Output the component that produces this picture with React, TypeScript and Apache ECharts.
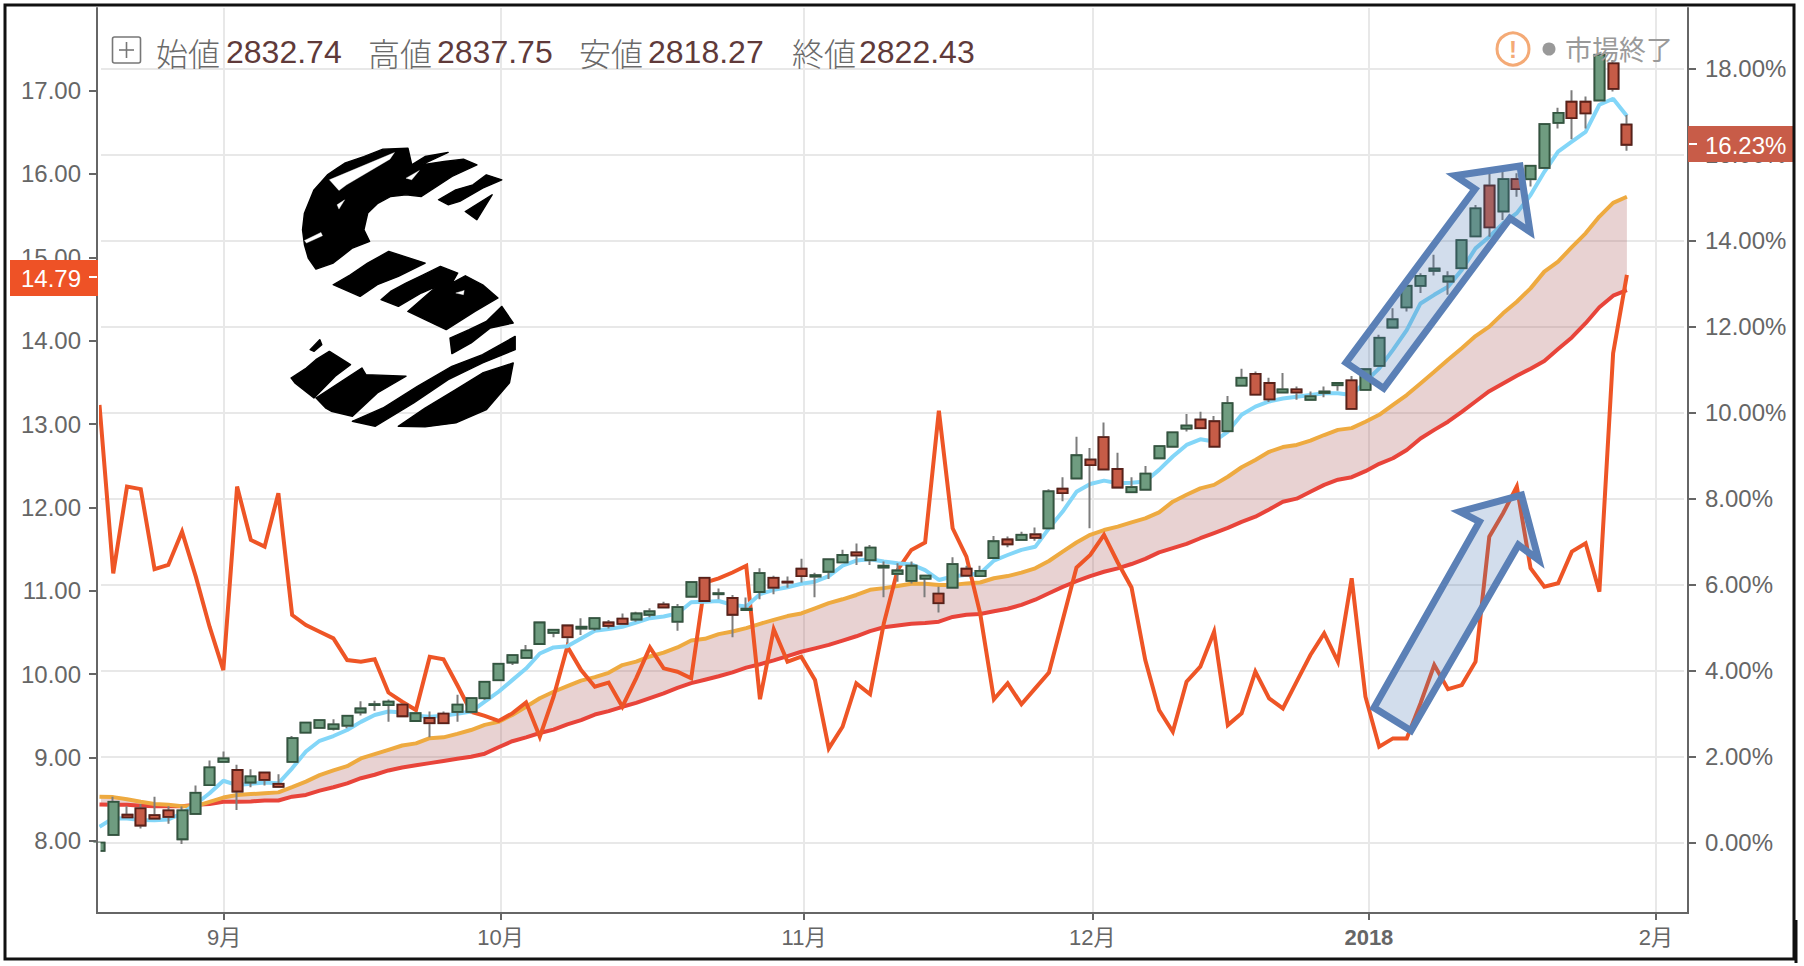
import React, { useEffect, useRef } from "react";
import * as echarts from "echarts";

// Month ticks sit between trading days, expressed in candle-index units.
const monthTickPositions = [9.05, 29.15, 51.2, 72.15, 92.25, 113.1];
const monthTickLabels = ["9月", "10月", "11月", "12月", "2018", "2月"];
const leftTicks = [8, 9, 10, 11, 12, 13, 14, 15, 16, 17];
const rightTicks = [0, 2, 4, 6, 8, 10, 12, 14, 16, 18];

// [open, close, low, high], in percent on the right axis
const candles = [
  [-0.19,0,-0.19,0],[0.18,0.95,0.18,1.07],[0.65,0.59,0.57,0.85],[0.8,0.4,0.33,0.9],[0.64,0.56,0.56,1.07],
  [0.75,0.6,0.44,0.85],[0.08,0.75,-0.03,0.84],[0.67,1.16,0.67,1.33],[1.34,1.75,1.34,1.91],[1.88,1.96,1.88,2.12],
  [1.69,1.19,0.76,1.81],[1.4,1.54,1.29,1.71],[1.63,1.46,1.33,1.65],[1.37,1.3,1.3,1.59],[1.88,2.43,1.88,2.48],
  [2.56,2.79,2.56,2.79],[2.67,2.85,2.67,2.85],[2.65,2.75,2.61,2.87],[2.72,2.95,2.66,2.95],[3.03,3.12,2.96,3.29],
  [3.2,3.22,3.07,3.3],[3.2,3.28,2.81,3.33],[3.21,2.94,2.93,3.24],[2.83,3.01,2.83,3.01],[2.9,2.78,2.45,3.05],
  [3.0,2.78,2.78,3.05],[3.04,3.21,2.81,3.44],[3.04,3.36,3.04,3.36],[3.36,3.74,3.32,3.74],[3.78,4.16,3.78,4.16],
  [4.19,4.36,4.13,4.36],[4.3,4.47,4.3,4.6],[4.62,5.12,4.62,5.12],[4.88,4.95,4.78,4.95],[5.05,4.78,4.64,5.05],
  [4.98,5.02,4.83,5.22],[4.98,5.22,4.93,5.22],[5.12,5.04,4.98,5.18],[5.21,5.09,5.09,5.33],[5.19,5.33,5.14,5.37],
  [5.3,5.38,5.24,5.45],[5.54,5.47,5.47,5.6],[5.14,5.48,4.93,5.55],[5.72,6.06,5.72,6.06],[6.16,5.62,5.62,6.16],
  [5.78,5.8,5.66,5.91],[5.69,5.3,4.78,5.76],[5.41,5.44,5.41,5.7],[5.83,6.27,5.66,6.38],[6.16,5.93,5.78,6.21],
  [6.07,6.05,5.93,6.19],[6.37,6.2,6.05,6.6],[6.19,6.22,5.71,6.28],[6.3,6.59,6.13,6.59],[6.52,6.69,6.5,6.81],
  [6.75,6.68,6.46,6.96],[6.57,6.86,6.46,6.92],[6.4,6.44,5.71,6.54],[6.25,6.33,6.07,6.5],[6.09,6.44,6.03,6.54],
  [6.14,6.21,5.71,6.22],[5.79,5.57,5.35,5.95],[5.93,6.48,5.93,6.64],[6.37,6.21,6.21,6.44],[6.2,6.32,6.2,6.44],
  [6.62,7.01,6.62,7.13],[7.05,6.94,6.87,7.12],[7.04,7.16,7.04,7.23],[7.17,7.09,7.02,7.33],[7.31,8.17,7.31,8.22],
  [8.23,8.13,7.94,8.5],[8.47,9.01,8.47,9.44],[8.91,8.78,7.31,9.18],[9.43,8.68,8.68,9.77],[8.69,8.26,8.26,9.07],
  [8.15,8.27,8.15,8.5],[8.21,8.58,8.21,8.76],[8.94,9.22,8.94,9.22],[9.21,9.54,9.21,9.54],[9.63,9.7,9.56,9.97],
  [9.84,9.64,9.64,10.02],[9.8,9.21,9.21,9.92],[9.57,10.22,9.57,10.39],[10.63,10.81,10.63,11.02],[10.9,10.42,10.42,10.96],
  [10.69,10.31,10.25,10.81],[10.47,10.54,10.47,10.92],[10.54,10.47,10.3,10.61],[10.3,10.38,10.3,10.49],[10.46,10.49,10.36,10.61],
  [10.64,10.69,10.51,10.69],[10.75,10.09,10.09,10.85],[10.53,11.01,10.53,11.01],[11.09,11.74,11.09,11.81],[11.98,12.17,11.98,12.43],
  [12.45,12.95,12.35,12.95],[12.95,13.18,12.78,13.24],[13.3,13.35,13.19,13.67],[13.05,13.17,12.74,13.29],[13.36,14.01,13.36,14.01],
  [14.1,14.75,14.1,14.83],[15.28,14.31,14.09,15.57],[14.68,15.43,14.48,15.6],[15.43,15.2,15.02,15.57],[15.43,15.74,15.26,15.74],
  [15.69,16.71,15.69,16.71],[16.74,16.97,16.61,17.09],[17.23,16.85,16.36,17.5],[17.23,16.96,16.61,17.35],[17.26,18.32,17.26,18.32],
  [18.12,17.53,17.47,18.2],[16.7,16.23,16.09,16.92],
];

const fastAverage = [
  0.37,0.57,0.56,0.53,0.52,0.54,0.68,0.9,1.15,1.44,1.34,1.37,1.4,1.38,1.73,2.12,2.37,2.48,2.62,2.81,
  2.97,3.05,3.03,2.95,2.93,2.95,3.0,3.05,3.28,3.51,3.78,4.05,4.4,4.54,4.57,4.75,4.93,4.97,5.02,5.12,
  5.22,5.26,5.33,5.59,5.6,5.62,5.53,5.49,5.78,5.88,5.94,6.02,6.07,6.2,6.44,6.56,6.59,6.54,6.5,6.47,
  6.34,6.11,6.19,6.23,6.26,6.56,6.69,6.81,6.88,7.31,7.7,8.16,8.34,8.42,8.36,8.37,8.4,8.67,8.98,9.25,
  9.38,9.33,9.56,9.95,10.14,10.26,10.33,10.37,10.41,10.45,10.45,10.41,10.72,11.03,11.46,11.92,12.54,12.74,12.93,13.32,
  13.82,14.09,14.4,14.64,15.06,15.6,16.07,16.3,16.53,17.16,17.3,16.9,
];

const midAverage = [
  1.07,1.06,1.01,0.95,0.9,0.88,0.85,0.85,0.95,1.05,1.11,1.13,1.15,1.17,1.29,1.42,1.57,1.68,1.78,1.96,
  2.06,2.16,2.26,2.31,2.43,2.45,2.53,2.62,2.74,2.81,2.97,3.16,3.36,3.51,3.64,3.77,3.85,3.95,4.13,4.21,
  4.33,4.42,4.54,4.7,4.74,4.85,4.91,4.99,5.09,5.18,5.27,5.33,5.45,5.57,5.66,5.76,5.88,5.92,5.97,6.02,
  6.02,5.99,5.99,6.03,6.05,6.15,6.2,6.28,6.38,6.55,6.77,6.98,7.16,7.27,7.35,7.45,7.54,7.68,7.93,8.09,
  8.24,8.32,8.51,8.73,8.9,9.09,9.2,9.25,9.35,9.48,9.6,9.64,9.79,9.95,10.18,10.41,10.68,10.95,11.23,11.5,
  11.78,12.0,12.31,12.58,12.89,13.28,13.51,13.85,14.17,14.56,14.88,15.02,
];

const slowAverage = [
  0.89,0.88,0.88,0.86,0.85,0.85,0.85,0.88,0.9,0.95,0.95,0.96,0.98,0.98,1.07,1.11,1.21,1.29,1.38,1.5,
  1.58,1.68,1.75,1.8,1.85,1.9,1.95,2.0,2.07,2.22,2.36,2.45,2.55,2.63,2.75,2.85,2.98,3.06,3.16,3.25,
  3.36,3.47,3.6,3.71,3.79,3.87,3.96,4.07,4.15,4.24,4.34,4.44,4.52,4.6,4.7,4.8,4.92,5.01,5.05,5.09,
  5.11,5.14,5.25,5.3,5.32,5.38,5.44,5.53,5.65,5.8,5.95,6.08,6.2,6.3,6.38,6.48,6.6,6.75,6.85,6.95,
  7.08,7.2,7.32,7.46,7.58,7.75,7.93,8.0,8.16,8.32,8.44,8.5,8.64,8.81,8.94,9.13,9.4,9.6,9.79,10.02,
  10.26,10.5,10.68,10.86,11.02,11.2,11.48,11.75,12.08,12.45,12.72,12.85,
];

// Left axis
const volatility = [
  13.23,11.21,12.25,12.22,11.26,11.31,11.71,11.17,10.57,10.05,12.25,11.61,11.53,12.17,10.71,10.59,10.51,10.43,10.17,10.15,
  10.18,9.78,9.67,9.57,10.21,10.18,9.87,9.55,9.5,9.44,9.53,9.66,9.25,9.73,10.33,10.05,9.85,9.9,9.61,9.95,
  10.32,10.07,10.03,9.95,11.1,11.15,11.22,11.3,9.7,10.54,10.15,10.21,9.93,9.11,9.37,9.89,9.76,10.61,11.25,11.49,
  11.58,13.16,11.75,11.41,10.73,9.7,9.89,9.64,9.83,10.02,10.65,11.28,11.43,11.67,11.34,11.04,10.17,9.57,9.31,9.91,
  10.09,10.51,9.39,9.53,10.03,9.71,9.59,9.91,10.23,10.49,10.15,11.15,9.73,9.13,9.23,9.23,9.65,10.11,9.82,9.87,
  10.15,11.65,11.93,12.25,11.27,11.05,11.09,11.47,11.57,10.99,13.85,14.79,
];

const headerLabels = ["始値", "高値", "安値", "終値"];
const headerValues = ["2832.74", "2837.75", "2818.27", "2822.43"];
const lastVolatilityTag = "14.79";
const lastPercentTag = "16.23%";
const statusText = "市場終了";

const logoShapes = [
  "M855 525L880 505L900 490L950 470L1000 448L1065 445L1075 495L1110 470L1170 458L1100 495L1160 485L1210 478L1245 495L1180 530L1140 560L1100 590L1060 585L1020 590L985 612L960 640L950 690L965 725L920 745L870 790L825 808L805 775L795 735L790 690L795 640L820 570Z",
  "M1145 600L1190 570L1235 555L1270 525L1310 540L1260 565L1200 605L1170 615Z",
  "M1215 635L1285 585L1245 660Z",
  "M870 855L915 825L960 790L1015 755L1110 790L1040 830L985 855L940 890Z",
  "M995 900L1020 875L1060 850L1105 825L1150 800L1195 820L1180 850L1215 828L1260 855L1300 895L1240 935L1165 990L1065 935L1140 860L1100 880L1040 920Z",
  "M1175 1015L1225 990L1270 965L1310 920L1340 970L1280 985L1230 1030L1180 1062Z",
  "M810 1050L835 1020L840 1035L820 1055Z",
  "M760 1135L800 1105L825 1080L860 1055L915 1095L875 1130L820 1195L770 1150Z",
  "M825 1195L885 1150L945 1105L955 1125L1060 1130L985 1180L920 1250L865 1235L850 1225Z",
  "M920 1265L1000 1225L1090 1160L1180 1100L1260 1065L1345 1010L1345 1050L1260 1090L1170 1140L1080 1210L980 1280Z",
  "M1040 1280L1110 1225L1190 1170L1260 1120L1340 1090L1330 1150L1270 1230L1190 1270L1110 1282Z",
];
// White scratches across the black strokes of the logo
const logoCuts = [
  "M860 540L1030 458L1018 478L905 555L885 572Z",
  "M795 722L838 698L842 708L800 730Z",
  "M880 615L900 600L885 628Z",
  "M1060 535L1095 512L1075 540Z",
  "M1190 880L1212 872L1210 885Z",
];

echarts.graphic.registerShape("sLogo", echarts.graphic.extendPath(logoShapes.join(""), {}));
echarts.graphic.registerShape("sLogoCuts", echarts.graphic.extendPath(logoCuts.join(""), {}));

const uiFont = '"Liberation Sans","Noto Sans CJK JP",sans-serif';
const gridLine = { show: true, lineStyle: { color: "#e8e8e8", width: 2 } };
const axisColor = "#666666";

function buildHeader() {
  const labelX = [156, 368, 579, 792];
  const valueX = [226, 437, 648, 859];
  const items: any[] = [];
  headerLabels.forEach((t, i) => {
    items.push({
      type: "text", z: 60,
      style: { text: t, x: labelX[i], y: 52, fill: "#6a6a6a", textVerticalAlign: "middle", font: '300 32px "Noto Sans CJK JP"' },
    });
    items.push({
      type: "text", z: 60,
      style: { text: headerValues[i], x: valueX[i], y: 52, fill: "#5f3a3a", textVerticalAlign: "middle", font: "32px " + uiFont },
    });
  });
  return items;
}

function renderBand(params: any, api: any) {
  if (params.dataIndex !== 0) return null;
  const upper = midAverage.map((v, i) => api.coord([i, v]));
  const lower = slowAverage.map((v, i) => api.coord([i, v])).reverse();
  return {
    type: "polygon",
    shape: { points: upper.concat(lower) },
    style: { fill: "rgba(170,90,90,0.27)", stroke: "none" },
  };
}

function buildOption() {
  const idx = (arr: number[]) => arr.map((v, i) => [i, v]);
  const tagText = (text: string, x: number, y: number, align: string) => ({
    type: "text", z: 71,
    style: { text, x, y, fill: "#ffffff", textAlign: align, textVerticalAlign: "middle", font: "24px " + uiFont },
  });
  const arrowStyle = { fill: "rgba(68,114,176,0.24)", stroke: "#5b80b6", lineWidth: 7, lineJoin: "miter" };
  return {
    animation: false,
    backgroundColor: "#ffffff",
    grid: { left: 101, right: 120, top: 8, bottom: 53, containLabel: false },
    xAxis: {
      type: "value", min: 0.11, max: 115.15, scale: true,
      axisLine: { show: true, onZero: false, lineStyle: { color: axisColor, width: 2 } },
      axisTick: { show: true, length: 7, customValues: monthTickPositions, lineStyle: { color: axisColor, width: 2 } },
      axisLabel: {
        customValues: monthTickPositions, margin: 13, color: axisColor, fontFamily: uiFont, fontSize: 22,
        formatter: (v: number) => {
          const s = monthTickLabels[monthTickPositions.indexOf(v)] ?? "";
          return s === "2018" ? "{b|2018}" : s;
        },
        rich: { b: { fontWeight: "bold", fontSize: 22, color: axisColor, fontFamily: uiFont } },
      },
      splitLine: gridLine,
    },
    yAxis: [
      {
        type: "value", position: "left", offset: 4, min: 7.136, max: 17.99, scale: true,
        axisLine: { show: true, lineStyle: { color: axisColor, width: 2 } },
        axisTick: { show: true, length: 8, customValues: leftTicks, lineStyle: { color: axisColor, width: 2 } },
        axisLabel: { customValues: leftTicks, margin: 16, color: axisColor, fontFamily: uiFont, fontSize: 24, formatter: (v: number) => v.toFixed(2) },
        splitLine: { show: false },
      },
      {
        type: "value", position: "right", offset: 4, min: -1.635, max: 19.41, scale: true,
        axisLine: { show: true, lineStyle: { color: axisColor, width: 2 } },
        axisTick: { show: true, length: 8, customValues: rightTicks, lineStyle: { color: axisColor, width: 2 } },
        axisLabel: { customValues: rightTicks, margin: 17, color: axisColor, fontFamily: uiFont, fontSize: 24, formatter: (v: number) => v.toFixed(2) + "%" },
        splitLine: gridLine,
      },
    ],
    series: [
      {
        type: "custom", name: "band", yAxisIndex: 1, z: 2, clip: true, data: [[0, 0]], renderItem: renderBand, silent: true,
      },
      {
        type: "line", name: "slow", yAxisIndex: 1, data: idx(slowAverage), showSymbol: false, z: 3,
        lineStyle: { color: "#e8443a", width: 4 },
      },
      {
        type: "line", name: "mid", yAxisIndex: 1, data: idx(midAverage), showSymbol: false, z: 3,
        lineStyle: { color: "#eeaa40", width: 4 },
      },
      {
        type: "line", name: "volatility", yAxisIndex: 0, data: idx(volatility), showSymbol: false, z: 4,
        lineStyle: { color: "#ee5526", width: 4, join: "miter" },
      },
      {
        type: "line", name: "fast", yAxisIndex: 1, data: idx(fastAverage), showSymbol: false, z: 4,
        lineStyle: { color: "#83d6f8", width: 4 },
      },
      {
        // Grey wicks: the full high-low range
        type: "candlestick", name: "wicks", yAxisIndex: 1, z: 5, barWidth: 10.5,
        data: candles.map((c, i) => [i, c[0], c[1], c[2], c[3]]),
        itemStyle: { color: "#7d7d7d", color0: "#7d7d7d", borderColor: "#7d7d7d", borderColor0: "#7d7d7d", borderWidth: 2 },
      },
      {
        // Bodies only, drawn over the wicks with their dark outlines
        type: "candlestick", name: "price", yAxisIndex: 1, z: 6, barWidth: 10.5,
        data: candles.map((c, i) => [i, c[0], c[1], Math.min(c[0], c[1]), Math.max(c[0], c[1])]),
        itemStyle: { color: "#6f9c80", color0: "#c65c47", borderColor: "#32553f", borderColor0: "#5a2018", borderWidth: 1.8 },
      },
    ],
    graphic: {
      elements: [
        { type: "rect", z: 80, shape: { x: 5, y: 5, width: 1789, height: 954 }, style: { fill: "none", stroke: "#111111", lineWidth: 3 } },
        { type: "line", z: 80, shape: { x1: 1796, y1: 920, x2: 1796, y2: 963 }, style: { stroke: "#111111", lineWidth: 3 } },
        { type: "line", z: 20, shape: { x1: 96, y1: 913, x2: 102, y2: 913 }, style: { stroke: axisColor, lineWidth: 2 } },
        { type: "line", z: 20, shape: { x1: 1683, y1: 913, x2: 1689, y2: 913 }, style: { stroke: axisColor, lineWidth: 2 } },

        // The first candle starts just outside the plot: mask what lies left of the plot edge
        { type: "rect", z: 21, shape: { x: 91, y: 842.5, width: 9.5, height: 13 }, style: { fill: "#ffffff" } },
        { type: "line", z: 22, shape: { x1: 97, y1: 838, x2: 97, y2: 858 }, style: { stroke: axisColor, lineWidth: 2 } },

        { type: "sLogo", z: 40, x: 0, y: 0, scaleX: 1 / 2.613, scaleY: 1 / 3, style: { fill: "#000000", stroke: "#000000", lineWidth: 4, lineJoin: "round" } },
        { type: "sLogoCuts", z: 41, x: 0, y: 0, scaleX: 1 / 2.613, scaleY: 1 / 3, style: { fill: "#ffffff", stroke: "#ffffff", lineWidth: 1, lineJoin: "round" } },

        { type: "rect", z: 60, shape: { x: 112.5, y: 37, width: 28, height: 26, r: 2 }, style: { fill: "#ffffff", stroke: "#777777", lineWidth: 1.6 } },
        { type: "line", z: 61, shape: { x1: 119, y1: 50, x2: 134, y2: 50 }, style: { stroke: "#777777", lineWidth: 1.6 } },
        { type: "line", z: 61, shape: { x1: 126.5, y1: 42, x2: 126.5, y2: 58 }, style: { stroke: "#777777", lineWidth: 1.6 } },
        ...buildHeader(),

        { type: "circle", z: 60, shape: { cx: 1513, cy: 49, r: 16 }, style: { fill: "#ffffff", stroke: "#f4aa76", lineWidth: 3 } },
        { type: "text", z: 61, style: { text: "!", x: 1513, y: 49, fill: "#f4aa76", textAlign: "center", textVerticalAlign: "middle", font: "bold 24px " + uiFont } },
        { type: "circle", z: 60, shape: { cx: 1549, cy: 49, r: 6.5 }, style: { fill: "#999999" } },
        { type: "text", z: 60, style: { text: statusText, x: 1565, y: 48, fill: "#9a9a9a", textVerticalAlign: "middle", font: '27px "Noto Sans CJK JP"' } },

        { type: "polygon", z: 50, shape: { points: [[1346, 362.7], [1383.7, 388.3], [1510, 218.3], [1530, 231.7], [1520, 166], [1455, 175.7], [1475, 189]] }, style: arrowStyle },
        { type: "polygon", z: 50, shape: { points: [[1374, 707.7], [1411, 730.7], [1518.4, 545], [1538.7, 560], [1521.5, 495], [1460, 511.7], [1479.4, 521.7]] }, style: arrowStyle },

        { type: "rect", z: 70, shape: { x: 10, y: 260, width: 88, height: 36 }, style: { fill: "#ee5226" } },
        tagText(lastVolatilityTag, 81, 278, "right"),
        { type: "line", z: 71, shape: { x1: 89, y1: 277, x2: 97, y2: 277 }, style: { stroke: "#ffffff", lineWidth: 2 } },
        { type: "rect", z: 70, shape: { x: 1688, y: 126, width: 106, height: 36 }, style: { fill: "#c85c48" } },
        tagText(lastPercentTag, 1705, 145, "left"),
        { type: "line", z: 71, shape: { x1: 1689, y1: 144, x2: 1697, y2: 144 }, style: { stroke: "#ffffff", lineWidth: 2 } },
      ],
    },
  };
}

export default function App() {
  const ref = useRef<HTMLDivElement>(null);
  useEffect(() => {
    const chart = echarts.init(ref.current!, undefined, { renderer: "svg" });
    chart.setOption(buildOption() as any);
    return () => chart.dispose();
  }, []);
  return <div ref={ref} style={{ position: "fixed", left: 0, top: 0, width: 1804, height: 966 }} />;
}
